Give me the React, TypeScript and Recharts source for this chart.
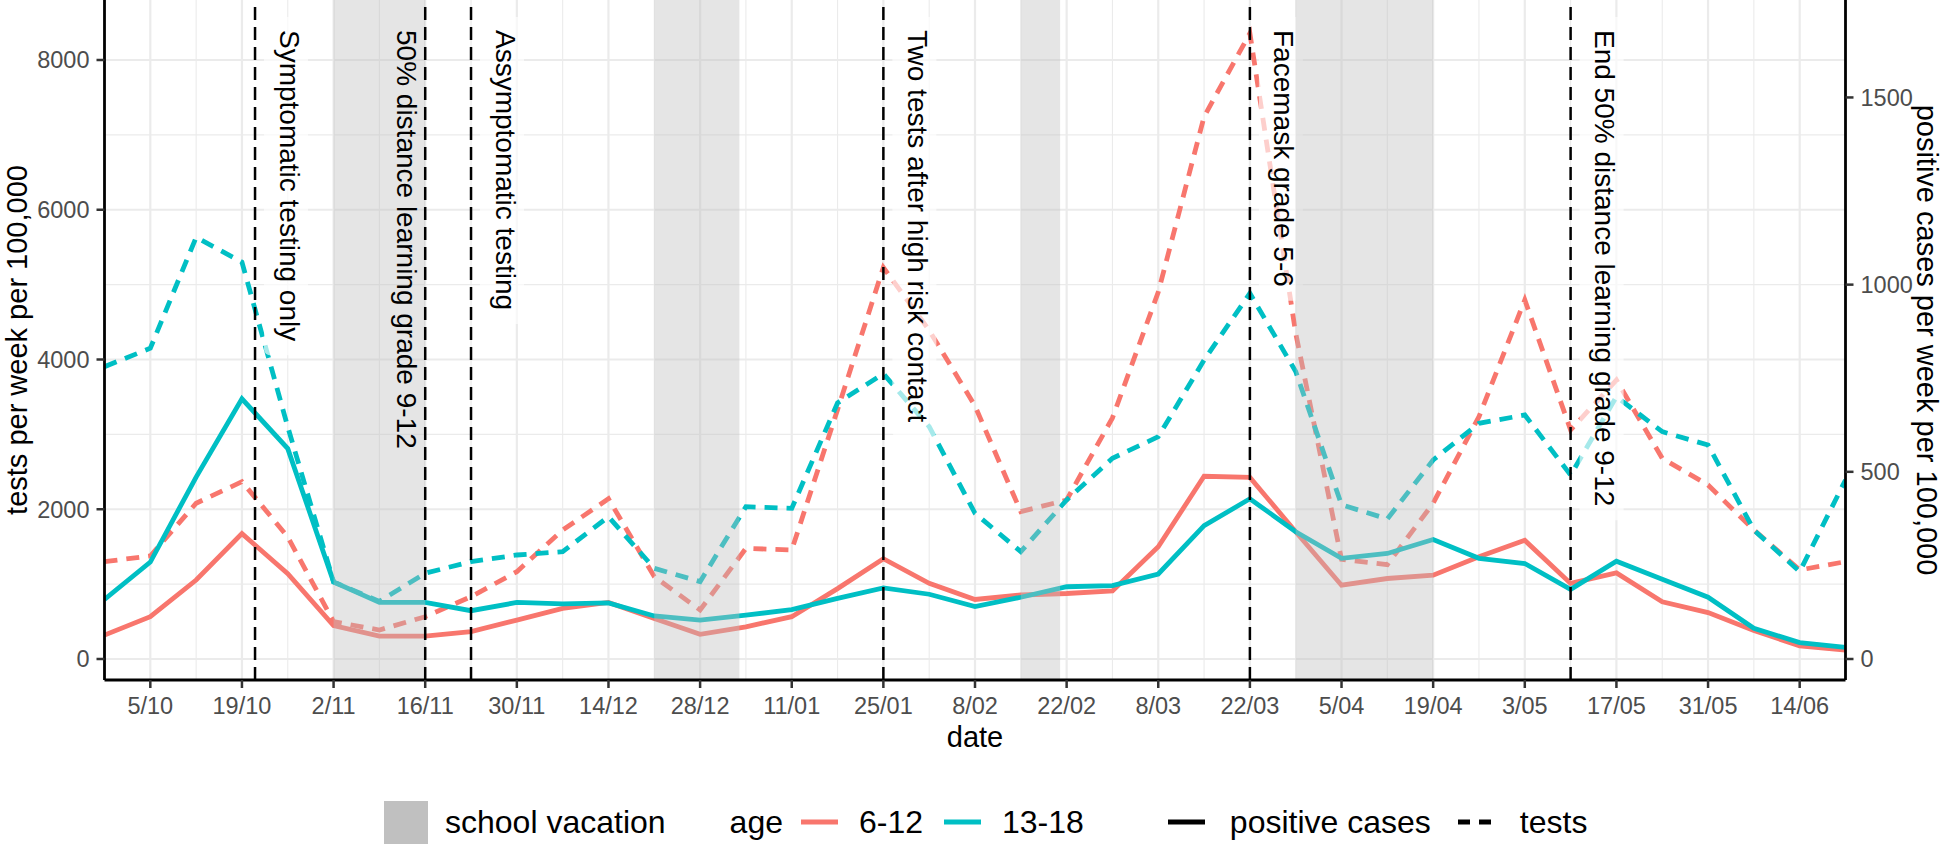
import React from 'react';
import { LineChart, Line, XAxis, YAxis, CartesianGrid, ReferenceArea, ReferenceLine, Label } from 'recharts';

// ---------- data ----------
const weekDates = ['28/09', '5/10', '12/10', '19/10', '26/10', '2/11', '9/11', '16/11', '23/11', '30/11', '7/12', '14/12', '21/12', '28/12', '4/01', '11/01', '18/01', '25/01', '1/02', '8/02', '15/02', '22/02', '1/03', '8/03', '15/03', '22/03', '29/03', '5/04', '12/04', '19/04', '26/04', '3/05', '10/05', '17/05', '24/05', '31/05', '7/06', '14/06', '21/06'];

// positive cases per week per 100,000 (right axis)
const positives612 = [64, 113, 211, 335, 228, 89, 61, 61, 73, 104, 135, 151, 108, 66, 86, 113, 188, 268, 202, 159, 171, 175, 182, 300, 488, 485, 340, 197, 215, 224, 273, 317, 202, 230, 153, 124, 76, 35, 24];
const positives1318 = [159, 259, 486, 695, 562, 206, 151, 151, 129, 151, 147, 150, 115, 104, 117, 132, 162, 190, 173, 140, 165, 193, 196, 227, 356, 428, 340, 269, 282, 319, 269, 255, 186, 261, 213, 165, 82, 44, 31];

// tests per week per 100,000 (left axis)
const tests612 = [1300, 1376, 2080, 2368, 1630, 499, 387, 565, 832, 1166, 1723, 2140, 1100, 654, 1478, 1456, 3330, 5230, 4390, 3380, 1968, 2124, 3220, 4900, 7243, 8357, 4350, 1330, 1260, 2080, 3236, 4795, 3059, 3726, 2680, 2324, 1723, 1189, 1300];
const tests1318 = [3904, 4150, 5632, 5300, 3100, 1030, 770, 1145, 1300, 1389, 1433, 1900, 1211, 1033, 2034, 2012, 3420, 3810, 3103, 1946, 1433, 2124, 2680, 2969, 3993, 4884, 3840, 2060, 1870, 2658, 3148, 3259, 2457, 3503, 3036, 2858, 1723, 1166, 2391];

const leftTicks = [0, 2000, 4000, 6000, 8000];
const leftMinorTicks = [1000, 3000, 5000, 7000];
const rightTicks = [0, 500, 1000, 1500];

const vacations = [
  { from: '2/11', to: '16/11' },
  { from: '21/12', to: '3/01' },
  { from: '15/02', to: '21/02' },
  { from: '29/03', to: '19/04' },
];

const events = [
  { date: '21/10', text: 'Symptomatic testing only', side: 'right' },
  { date: '16/11', text: '50% distance learning grade 9-12', side: 'left' },
  { date: '23/11', text: 'Assymptomatic testing', side: 'right' },
  { date: '25/01', text: 'Two tests after high risk contact', side: 'right' },
  { date: '22/03', text: 'Facemask grade 5-6', side: 'right' },
  { date: '10/05', text: 'End 50% distance learning grade 9-12', side: 'right' },
];

const ageGroups = ['6-12', '13-18'];
const measures = ['positive cases', 'tests'];
const vacationLabel = 'school vacation';

// ---------- helpers ----------
const SALMON = '#F8766D';
const TEAL = '#00BFC4';
const FONT = '"Liberation Sans", Arial, Helvetica, sans-serif';

const START = Date.UTC(2020, 8, 28);
function dayOf(label: string): number {
  const [d, m] = label.split('/').map(Number);
  const y = m >= 8 ? 2020 : 2021;
  return Math.round((Date.UTC(y, m - 1, d) - START) / 86400000);
}

const data = weekDates.map((d, i) => ({
  day: dayOf(d),
  pos612: positives612[i],
  pos1318: positives1318[i],
  tests612: tests612[i],
  tests1318: tests1318[i],
}));

const allDays = weekDates.map(dayOf);
const majorDays = allDays.filter((_, i) => i % 2 === 1);
const minorDays = allDays.filter((_, i) => i % 2 === 0);
const labelOfDay: Record<number, string> = {};
weekDates.forEach((d) => { labelOfDay[dayOf(d)] = d; });

const W: Record<string, number> = {
  a: 556, b: 556, c: 500, d: 556, e: 556, f: 278, g: 556, h: 556, i: 222, j: 222, k: 500, l: 222, m: 833,
  n: 556, o: 556, p: 556, q: 556, r: 333, s: 500, t: 278, u: 556, v: 500, w: 722, x: 500, y: 500, z: 500,
  ' ': 278, '%': 889, '-': 333, A: 667, E: 667, F: 611, S: 667, T: 611,
};
function textLen(s: string, size: number): number {
  let t = 0;
  for (const ch of s) t += W[ch] ?? 556;
  return (t / 1000) * size;
}

const LABEL_SIZE = 28;
const TEXT_TOP = 30;

const boxShape = (ev: { text: string; side: string }) => (props: any) => {
  const { x1, y1, y2 } = props;
  if (ev.side === 'left') return <g />;
  const cx = x1 + 31;
  const top = Math.min(y1, y2) + TEXT_TOP;
  const len = textLen(ev.text, LABEL_SIZE);
  return <rect x={cx - 22} y={top - 13} width={44} height={len + 27} rx={6} ry={6} fill="#ffffff" fillOpacity={0.65} />;
};

const eventShape = (ev: { text: string; side: string }) => (props: any) => {
  const { x1, y1, x2, y2 } = props;
  const cx = x1 + (ev.side === 'left' ? -19 : 34);
  const top = Math.min(y1, y2) + TEXT_TOP;
  return (
    <g>
      <line x1={x1} y1={y1} x2={x2} y2={y2} stroke="#000" strokeWidth={2.5} strokeDasharray="13 7" />
      <text x={cx} y={top} transform={`rotate(90 ${cx} ${top})`} fontSize={LABEL_SIZE} fontFamily={FONT}
        dominantBaseline="central" textAnchor="start" fill="#000">{ev.text}</text>
    </g>
  );
};

const tickStyle = { fill: '#4D4D4D', fontSize: 23.5, fontFamily: FONT };
const TITLE_SIZE = 29;
const LINE_W = 4.8;

export default function App() {
  const legendKey = (color: string, dashed?: boolean) => (
    <svg width={37} height={8} style={{ display: 'block' }}>
      <line x1={0} y1={4} x2={37} y2={4} stroke={color} strokeWidth={5} strokeDasharray={dashed ? '12 9' : undefined} />
    </svg>
  );
  return (
    <div style={{ position: 'fixed', left: 0, top: 0, width: 1944, height: 846, background: '#fff', fontFamily: FONT }}>
      <LineChart width={1944} height={846} data={data} margin={{ top: 0, right: 0, bottom: 0, left: 0 }}
        style={{ fontFamily: FONT }}>
        <CartesianGrid yAxisId="left" horizontalValues={leftMinorTicks} verticalValues={minorDays}
          stroke="#EBEBEB" strokeWidth={1.1} />
        <CartesianGrid yAxisId="left" horizontalValues={leftTicks} verticalValues={majorDays}
          stroke="#EBEBEB" strokeWidth={2.2} />
        <XAxis dataKey="day" type="number" domain={[allDays[0], allDays[allDays.length - 1]]} ticks={majorDays}
          interval={0} tickFormatter={(v: number) => labelOfDay[v] ?? ''} height={166} tickSize={8} tickMargin={9}
          tick={tickStyle} tickLine={{ stroke: '#333', strokeWidth: 2.5 }} axisLine={{ stroke: '#000', strokeWidth: 2.8 }}
          allowDataOverflow>
          <Label content={(p: any) => {
            const vb = p.viewBox || { x: 104.5, y: 680, width: 1741, height: 166 };
            return <text x={vb.x + vb.width / 2} y={vb.y + 67} textAnchor="middle" fontSize={TITLE_SIZE} fontFamily={FONT} fill="#000">date</text>;
          }} />
        </XAxis>
        <YAxis yAxisId="left" orientation="left" domain={[-280.5, 8801.3]} ticks={leftTicks} interval={0}
          width={104.5} tickSize={8} tickMargin={7} tick={tickStyle} tickLine={{ stroke: '#333', strokeWidth: 2.5 }}
          axisLine={{ stroke: '#000', strokeWidth: 2.8 }} allowDataOverflow>
          <Label content={(p: any) => {
            const vb = p.viewBox || { x: 0, y: 0, width: 104.5, height: 680 };
            const x = vb.x + 26.5;
            const y = vb.y + vb.height / 2;
            return <text x={x} y={y} transform={`rotate(-90 ${x} ${y})`} textAnchor="middle" fontSize={TITLE_SIZE} fontFamily={FONT} fill="#000">tests per week per 100,000</text>;
          }} />
        </YAxis>
        <YAxis yAxisId="right" orientation="right" domain={[-56.1, 1760.3]} ticks={rightTicks} interval={0}
          width={98.5} tickSize={8} tickMargin={7} tick={tickStyle} tickLine={{ stroke: '#333', strokeWidth: 2.5 }}
          axisLine={{ stroke: '#000', strokeWidth: 2.8 }} allowDataOverflow>
          <Label content={(p: any) => {
            const vb = p.viewBox || { x: 1845.5, y: 0, width: 98.5, height: 680 };
            const x = vb.x + 71.5;
            const y = vb.y + vb.height / 2;
            return <text x={x} y={y} transform={`rotate(90 ${x} ${y})`} textAnchor="middle" fontSize={TITLE_SIZE} fontFamily={FONT} fill="#000">positive cases per week per 100,000</text>;
          }} />
        </YAxis>

        <Line yAxisId="left" dataKey="tests612" name={`${ageGroups[0]} ${measures[1]}`} type="linear" stroke={SALMON}
          strokeWidth={LINE_W} strokeDasharray="13 9" dot={false} activeDot={false} isAnimationActive={false} />
        <Line yAxisId="left" dataKey="tests1318" name={`${ageGroups[1]} ${measures[1]}`} type="linear" stroke={TEAL}
          strokeWidth={LINE_W} strokeDasharray="13 9" dot={false} activeDot={false} isAnimationActive={false} />
        <Line yAxisId="right" dataKey="pos612" name={`${ageGroups[0]} ${measures[0]}`} type="linear" stroke={SALMON}
          strokeWidth={LINE_W} dot={false} activeDot={false} isAnimationActive={false} />
        <Line yAxisId="right" dataKey="pos1318" name={`${ageGroups[1]} ${measures[0]}`} type="linear" stroke={TEAL}
          strokeWidth={LINE_W} dot={false} activeDot={false} isAnimationActive={false} />

        {events.map((ev) => (
          <ReferenceLine key={`box-${ev.date}`} yAxisId="left" x={dayOf(ev.date)} stroke="none"
            shape={boxShape(ev)} {...({ zIndex: 450 } as any)} />
        ))}
        {vacations.map((v) => (
          <ReferenceArea key={`vac-${v.from}`} yAxisId="left" x1={dayOf(v.from)} x2={dayOf(v.to)}
            fill="#BEBEBE" fillOpacity={0.4} stroke="none" {...({ zIndex: 460 } as any)} />
        ))}
        {events.map((ev) => (
          <ReferenceLine key={`ev-${ev.date}`} yAxisId="left" x={dayOf(ev.date)} stroke="#000"
            shape={eventShape(ev)} {...({ zIndex: 470 } as any)} />
        ))}
      </LineChart>

      <div style={{ position: 'absolute', left: 384, top: 800, height: 44, display: 'flex', alignItems: 'center',
        fontSize: 32, color: '#000', whiteSpace: 'nowrap', fontFamily: FONT }}>
        <div style={{ width: 44, height: 43, background: '#C0C0C0' }} />
        <span style={{ marginLeft: 17 }}>{vacationLabel}</span>
        <span style={{ marginLeft: 64 }}>age</span>
        <span style={{ marginLeft: 18 }}>{legendKey(SALMON)}</span>
        <span style={{ marginLeft: 21 }}>{ageGroups[0]}</span>
        <span style={{ marginLeft: 21 }}>{legendKey(TEAL)}</span>
        <span style={{ marginLeft: 21 }}>{ageGroups[1]}</span>
        <span style={{ marginLeft: 84 }}>{legendKey('#000')}</span>
        <span style={{ marginLeft: 25 }}>{measures[0]}</span>
        <span style={{ marginLeft: 27 }}>{legendKey('#000', true)}</span>
        <span style={{ marginLeft: 25 }}>{measures[1]}</span>
      </div>
    </div>
  );
}
